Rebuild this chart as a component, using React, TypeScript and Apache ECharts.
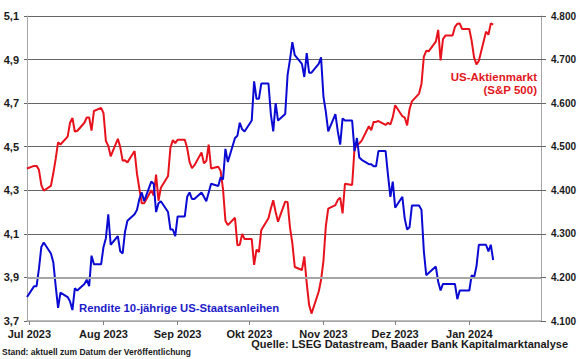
import React, { useEffect, useRef } from "react";
import * as echarts from "echarts";

// ---- data ----
const AXIS_START = "2023-06-30";
const AXIS_END = "2024-01-31";
const DATA_START = "2023-06-30";
const DATA_END = "2024-01-11";

const MONTH_LABELS = ["Jan", "Feb", "Mär", "Apr", "Mai", "Jun", "Jul", "Aug", "Sep", "Okt", "Nov", "Dez"];

const LEFT_MIN = 3.7;
const LEFT_MAX = 5.1;
const LEFT_STEP = 0.2;
const RIGHT_MIN = 4100;
const RIGHT_MAX = 4800;
const RIGHT_STEP = 100;

// 10-year US Treasury yield (%), one value per weekday
const yield10y = [
  3.81,
  3.86, 3.86, 3.94, 4.04, 4.06, // Jul 3-7
  4.01, 3.97, 3.86, 3.76, 3.83, // Jul 10-14
  3.81, 3.79, 3.75, 3.85, 3.84, // Jul 17-21
  3.87, 3.89, 3.86, 4.0, 3.96, // Jul 24-28
  3.96, 4.04, 4.08, 4.19, 4.05, // Jul 31-Aug 4
  4.09, 4.02, 4.01, 4.11, 4.16, // Aug 7-11
  4.19, 4.21, 4.26, 4.29, 4.25, // Aug 14-18
  4.34, 4.33, 4.2, 4.24, 4.25, // Aug 21-25
  4.2, 4.12, 4.12, 4.09, 4.18, // Aug 28-Sep 1
  4.18, 4.27, 4.29, 4.26, 4.26, // Sep 4-8
  4.29, 4.27, 4.25, 4.29, 4.33, // Sep 11-15
  4.32, 4.36, 4.35, 4.49, 4.43, // Sep 18-22
  4.54, 4.55, 4.61, 4.58, 4.57, // Sep 25-29
  4.62, 4.8, 4.72, 4.72, 4.79, // Oct 2-6
  4.79, 4.65, 4.57, 4.7, 4.62, // Oct 9-13
  4.65, 4.83, 4.9, 4.98, 4.92, // Oct 16-20
  4.88, 4.82, 4.93, 4.84, 4.84, // Oct 23-27
  4.88, 4.91, 4.73, 4.66, 4.57, // Oct 30-Nov 3
  4.65, 4.57, 4.51, 4.63, 4.62, // Nov 6-10
  4.62, 4.48, 4.54, 4.45, 4.44, // Nov 13-17
  4.42, 4.42, 4.41, 4.41, 4.48, // Nov 20-24
  4.48, 4.37, 4.27, 4.34, 4.22, // Nov 27-Dec 1
  4.27, 4.17, 4.12, 4.13, 4.23, // Dec 4-8
  4.23, 4.21, 4.02, 3.91, 3.92, // Dec 11-15
  3.95, 3.88, 3.84, 3.87, 3.87, // Dec 18-22
  3.87, 3.87, 3.8, 3.84, 3.84, // Dec 25-29
  3.84, 3.91, 3.9, 3.95, 4.05, // Jan 1-5
  4.05, 4.02, 4.05, 3.98, // Jan 8-11
];

// S&P 500 index, one value per weekday
const sp500 = [
  4450,
  4456, 4456, 4447, 4412, 4399,
  4410, 4439, 4472, 4510, 4505,
  4523, 4555, 4566, 4535, 4536,
  4555, 4567, 4567, 4537, 4582,
  4589, 4577, 4513, 4502, 4478,
  4518, 4499, 4468, 4469, 4464,
  4490, 4438, 4404, 4370, 4370,
  4400, 4388, 4436, 4376, 4406,
  4433, 4498, 4515, 4508, 4516,
  4516, 4497, 4465, 4451, 4457,
  4487, 4462, 4467, 4505, 4450,
  4454, 4444, 4402, 4330, 4320,
  4337, 4274, 4275, 4300, 4288,
  4288, 4229, 4264, 4258, 4309,
  4336, 4358, 4377, 4350, 4328,
  4374, 4373, 4315, 4278, 4224,
  4217, 4248, 4187, 4137, 4117,
  4167, 4194, 4238, 4318, 4358,
  4366, 4378, 4383, 4347, 4415,
  4412, 4496, 4503, 4508, 4514,
  4547, 4538, 4557, 4557, 4559,
  4550, 4555, 4551, 4568, 4595,
  4570, 4567, 4549, 4586, 4604,
  4622, 4644, 4707, 4720, 4719,
  4741, 4768, 4698, 4747, 4755,
  4755, 4775, 4782, 4783, 4770,
  4770, 4743, 4705, 4689, 4697,
  4764, 4757, 4783, 4780,
];

// ---- helpers ----
function dayList(start: string, end: string, weekdaysOnly: boolean): string[] {
  const out: string[] = [];
  const d = new Date(start + "T00:00:00Z");
  const e = new Date(end + "T00:00:00Z");
  while (d.getTime() <= e.getTime()) {
    const wd = d.getUTCDay();
    if (!weekdaysOnly || (wd !== 0 && wd !== 6)) out.push(d.toISOString().slice(0, 10));
    d.setUTCDate(d.getUTCDate() + 1);
  }
  return out;
}

const calendarDays = dayList(AXIS_START, AXIS_END, false);
const tradingDays = dayList(DATA_START, DATA_END, true);

const isMonthStart = (_i: number, v: string) => typeof v === "string" && v.slice(8, 10) === "01";

const BLUE = "#0a0ad2";
const RED = "#e8121c";
const FONT = "'Liberation Sans', Arial, sans-serif";
const TXT = "#1a1a1a";

export default function App() {
  const ref = useRef<HTMLDivElement>(null);
  useEffect(() => {
    if (!ref.current) return;
    const chart = echarts.init(ref.current, null, { renderer: "svg" });
    const scale10 = (v: number) => Math.round((v - LEFT_MIN) * 1000) / 100;
    const blueData = tradingDays.map((d, i) => [d, yield10y[i] === undefined ? null : scale10(yield10y[i])]);
    const redData = tradingDays.map((d, i) => [d, sp500[i] === undefined ? null : sp500[i]]);
    const leftSteps = Math.round((LEFT_MAX - LEFT_MIN) / LEFT_STEP);
    const splitColors = ["#a6a6a6", "#a6a6a6"];
    for (let k = 2; k <= leftSteps; k++) splitColors.push("#666666");

    const option: any = {
      animation: false,
      backgroundColor: "#ffffff",
      textStyle: { fontFamily: FONT },
      grid: { left: 27, right: 39, top: 16, bottom: 38, containLabel: false, outerBoundsMode: "none" },
      xAxis: {
        type: "category",
        data: calendarDays,
        boundaryGap: false,
        axisLine: { show: true, lineStyle: { color: "#a6a6a6", width: 1.5 } },
        axisTick: { show: true, interval: isMonthStart, length: 4, lineStyle: { color: "#7f7f7f" } },
        axisLabel: {
          show: true,
          interval: isMonthStart,
          margin: 7,
          color: TXT,
          fontSize: 11,
          fontWeight: "bold",
          fontFamily: FONT,
          formatter: (v: string) => MONTH_LABELS[parseInt(v.slice(5, 7), 10) - 1] + " " + v.slice(0, 4),
        },
        splitLine: { show: false },
      },
      yAxis: [
        {
          type: "value",
          position: "left",
          min: 0,
          max: Math.round((LEFT_MAX - LEFT_MIN) * 10),
          interval: Math.round(LEFT_STEP * 10),
          axisLine: { show: true, lineStyle: { color: "#a6a6a6" } },
          axisTick: { show: true, length: 3, lineStyle: { color: "#666" } },
          axisLabel: {
            margin: 8,
            color: TXT,
            fontSize: 11,
            fontWeight: "bold",
            fontFamily: FONT,
            formatter: (v: number) => (v / 10 + LEFT_MIN).toFixed(1).replace(".", ","),
          },
          splitLine: { show: true, lineStyle: { color: splitColors, width: 1 } },
        },
        {
          type: "value",
          position: "right",
          min: RIGHT_MIN,
          max: RIGHT_MAX,
          interval: RIGHT_STEP,
          axisLine: { show: true, lineStyle: { color: "#a6a6a6" } },
          axisTick: { show: true, length: 5, lineStyle: { color: "#666" } },
          axisLabel: {
            margin: 10,
            color: TXT,
            fontSize: 10,
            fontWeight: "bold",
            fontFamily: FONT,
            formatter: (v: number) => Math.floor(v / 1000) + "." + String(v % 1000).padStart(3, "0"),
          },
          splitLine: { show: false },
        },
      ],
      series: [
        {
          type: "line",
          name: "grid-highlight",
          yAxisIndex: 0,
          data: [],
          z: 1,
          silent: true,
          markLine: {
            silent: true,
            symbol: ["none", "none"],
            label: { show: false },
            lineStyle: { color: "#a6a6a6", width: 2, type: "solid" },
            data: [{ yAxis: 2 }],
          },
        },
        {
          type: "line",
          name: "US-Aktienmarkt (S&P 500)",
          yAxisIndex: 1,
          data: redData,
          symbol: "none",
          showSymbol: false,
          lineStyle: { color: RED, width: 2 },
          itemStyle: { color: RED },
          z: 3,
        },
        {
          type: "line",
          name: "Rendite 10-jährige US-Staatsanleihen",
          yAxisIndex: 0,
          data: blueData,
          symbol: "none",
          showSymbol: false,
          lineStyle: { color: BLUE, width: 2 },
          itemStyle: { color: BLUE },
          z: 4,
        },
      ],
      graphic: [
        {
          type: "text",
          style: { text: "US-Aktienmarkt", x: 537, y: 77, align: "right", verticalAlign: "middle", fill: "#e3161c", font: `bold 11.5px ${FONT}` },
        },
        {
          type: "text",
          style: { text: "(S&P 500)", x: 537, y: 90, align: "right", verticalAlign: "middle", fill: "#e3161c", font: `bold 11.5px ${FONT}` },
        },
        {
          type: "text",
          style: { text: "Rendite 10-jährige US-Staatsanleihen", x: 79, y: 308, align: "left", verticalAlign: "middle", fill: "#1c1cc8", font: `bold 11.3px ${FONT}` },
        },
        {
          type: "text",
          style: { text: "Stand: aktuell zum Datum der Veröffentlichung", x: 2, y: 352, align: "left", verticalAlign: "middle", fill: TXT, font: `bold 8.5px ${FONT}` },
        },
        {
          type: "text",
          style: { text: "Quelle: LSEG Datastream, Baader Bank Kapitalmarktanalyse", x: 568, y: 344, align: "right", verticalAlign: "middle", fill: TXT, font: `bold 11px ${FONT}` },
        },
      ],
    };
    chart.setOption(option);
    return () => chart.dispose();
  }, []);
  return <div ref={ref} style={{ position: "fixed", left: 0, top: 0, width: 580, height: 359 }} />;
}
